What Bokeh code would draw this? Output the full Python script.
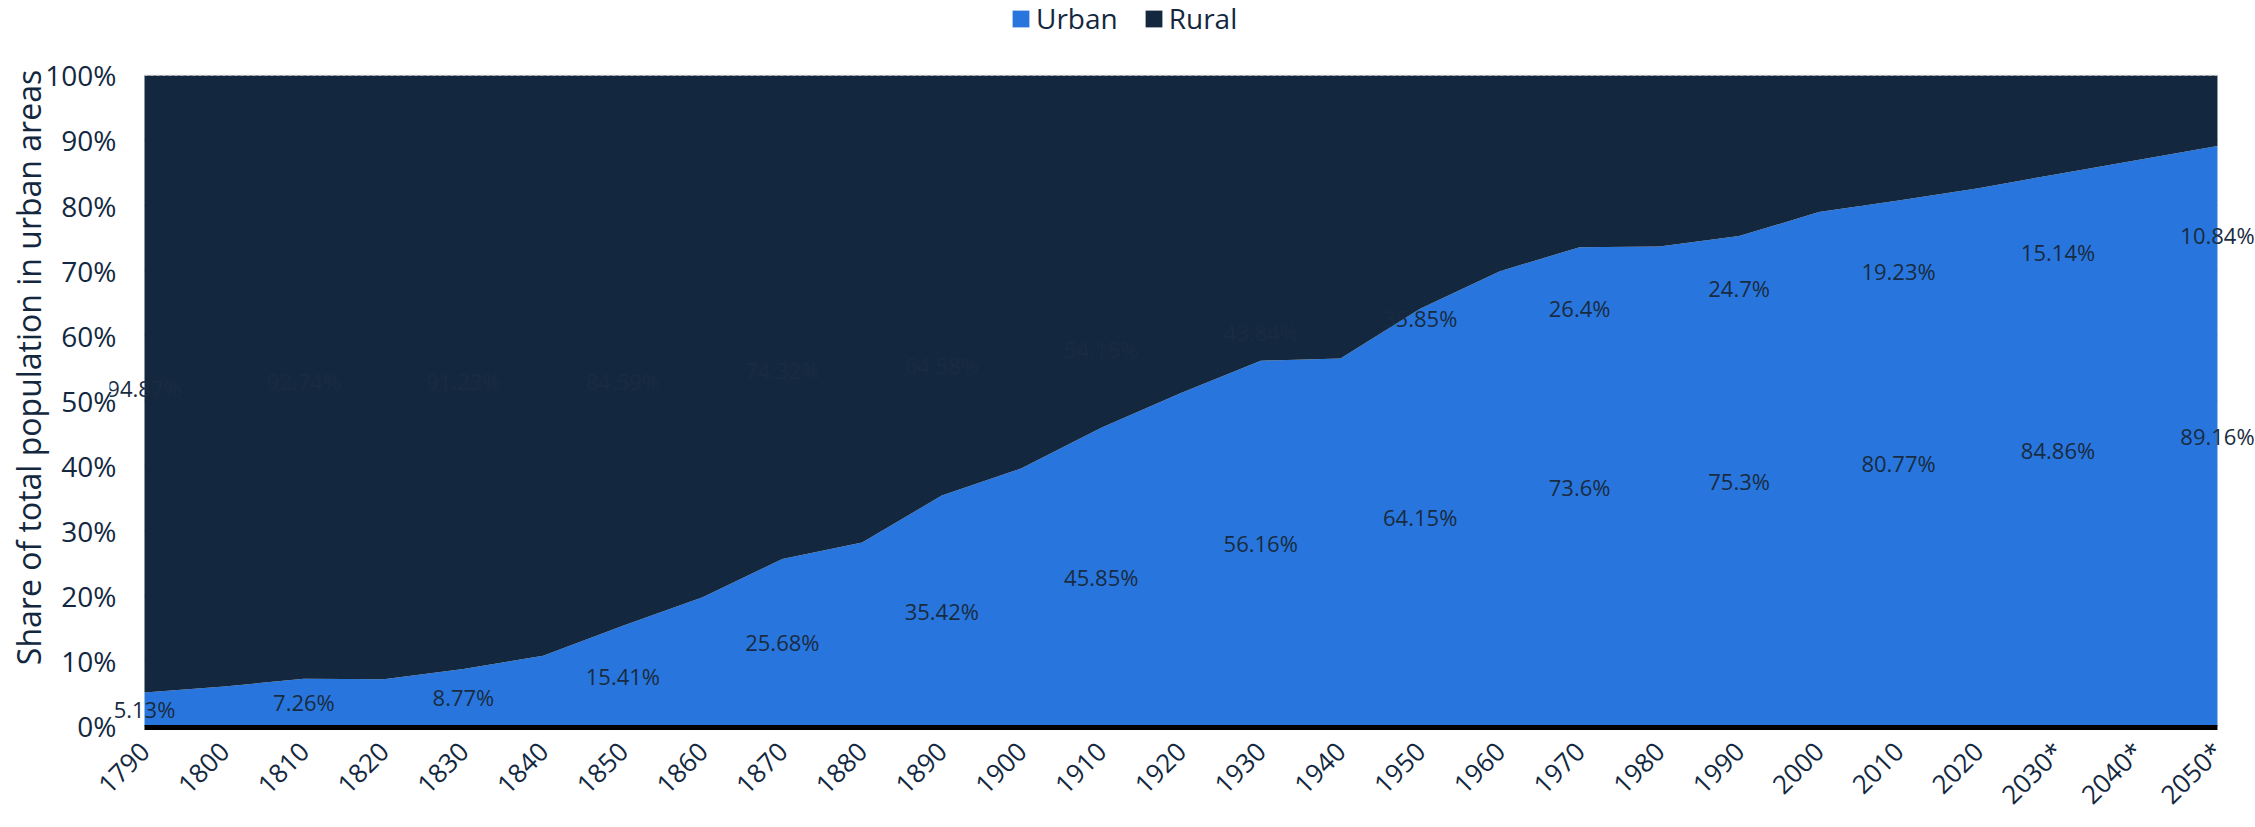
import math
from bokeh.plotting import figure
from bokeh.models import (ColumnDataSource, Range1d, FixedTicker, LabelSet,
                          Legend, LegendItem)
from bokeh.core.properties import value
from bokeh.embed import file_html
from bokeh.resources import INLINE

# ---- data -------------------------------------------------------------
years = ["1790", "1800", "1810", "1820", "1830", "1840", "1850", "1860", "1870",
         "1880", "1890", "1900", "1910", "1920", "1930", "1940", "1950", "1960",
         "1970", "1980", "1990", "2000", "2010", "2020", "2030*", "2040*", "2050*"]
urban = [5.13, 6.07, 7.26, 7.19, 8.77, 10.8, 15.41, 19.8, 25.68,
         28.2, 35.42, 39.6, 45.85, 51.2, 56.16, 56.5, 64.15, 69.9,
         73.6, 73.7, 75.3, 79.0, 80.77, 82.66, 84.86, 87.0, 89.16]
rural = [94.87, 93.93, 92.74, 92.81, 91.23, 89.2, 84.59, 80.2, 74.32,
         71.8, 64.58, 60.4, 54.15, 48.8, 43.84, 43.5, 35.85, 30.1,
         26.4, 26.3, 24.7, 21.0, 19.23, 17.34, 15.14, 13.0, 10.84]
y_ticks = [0, 10, 20, 30, 40, 50, 60, 70, 80, 90, 100]

# ---- layout ------------------------------------------------------------
# anchor heights (in % units) of the rural data labels, as placed in the original
rural_label_at = [52, 53, 53, 53, 54.7, 55.5, 58, 60.5, 62.7, 64.2, 67.4, 70, 72.9, 75.5]
PAD_L, PAD_R = 0.439, 0.477       # room (in category steps) for overhanging labels
Y_LO, Y_HI = -1.31, 111.52        # frame extends above 100 % for the legend
BASE_Y = -0.25                    # centre of the thick baseline, just under 0 %

BLUE = "#2876dd"
NAVY = "#13283f"
TXT = "#13283f"
LBL = "#192b41"
FONT = "Open Sans"

idx = list(range(len(years)))
src = ColumnDataSource(dict(x=idx, urban=urban, rural=rural))

p = figure(width=2255, height=827, output_backend="svg", toolbar_location=None,
           x_range=Range1d(idx[0] - PAD_L, idx[-1] + PAD_R),
           y_range=Range1d(Y_LO, Y_HI),
           min_border_left=109, min_border_right=0, min_border_top=0,
           min_border_bottom=80)
p.outline_line_color = None
p.background_fill_color = "white"
p.border_fill_color = "white"

# dashed grid lines limited to the data extent (hidden under the areas)
p.segment(x0=[idx[0]] * len(y_ticks), x1=[idx[-1]] * len(y_ticks),
          y0=y_ticks, y1=y_ticks, line_color="#b8b8b8", line_width=1,
          line_dash="3 3", level="underlay")

rs = p.varea_stack(["urban", "rural"], x="x", color=[BLUE, NAVY], source=src)

# the top grid line stays visible along the upper edge
p.segment(x0=[idx[0]], x1=[idx[-1]], y0=[y_ticks[-1]], y1=[y_ticks[-1]],
          line_color="#c4c4c4", line_width=1.2, line_dash="3 3")

# thick baseline spanning the data
p.segment(x0=[idx[0]], x1=[idx[-1]], y0=[BASE_Y], y1=[BASE_Y],
          line_color="black", line_width=5)

# data labels
lab_idx = idx[::2]
u_src = ColumnDataSource(dict(
    x=lab_idx,
    y=[urban[i] / 2 for i in lab_idx],
    t=[f"{urban[i]:g}%" for i in lab_idx]))
r_src = ColumnDataSource(dict(
    x=lab_idx,
    y=rural_label_at,
    t=[f"{rural[i]:g}%" for i in lab_idx]))
for s in (u_src, r_src):
    p.add_layout(LabelSet(x="x", y="y", text="t", source=s, text_align="center",
                          text_baseline="middle", text_font_size="22px",
                          text_color=LBL, text_font=value(FONT)))

# axes
p.xaxis.ticker = FixedTicker(ticks=idx)
p.xaxis.major_label_overrides = {i: y for i, y in enumerate(years)}
p.xaxis.major_label_orientation = math.pi / 4
p.xaxis.axis_line_color = None
p.xaxis.major_tick_line_color = None
p.xaxis.minor_tick_line_color = None
p.xaxis.major_label_standoff = 6
p.xaxis.major_label_text_font_size = "26px"
p.xaxis.major_label_text_font = FONT
p.xaxis.major_label_text_color = TXT

p.yaxis.ticker = FixedTicker(ticks=y_ticks)
p.yaxis.major_label_overrides = {t: f"{t}%" for t in y_ticks}
p.yaxis.axis_line_color = None
p.yaxis.major_tick_line_color = None
p.yaxis.minor_tick_line_color = None
p.yaxis.major_tick_out = 0
p.yaxis.major_label_standoff = -7
p.yaxis.major_label_text_font_size = "28px"
p.yaxis.major_label_text_font = FONT
p.yaxis.major_label_text_color = TXT
p.yaxis.axis_label = "Share of total population in urban areas"
p.yaxis.axis_label_text_font_size = "32px"
p.yaxis.axis_label_text_font = FONT
p.yaxis.axis_label_text_font_style = "normal"
p.yaxis.axis_label_text_color = TXT
p.yaxis.axis_label_standoff = -8

p.xgrid.visible = False
p.ygrid.visible = False

legend = Legend(items=[LegendItem(label="Urban", renderers=[rs[0]]),
                       LegendItem(label="Rural", renderers=[rs[1]])],
                orientation="horizontal", location=(901, 697))
legend.label_text_font_size = "28px"
legend.label_text_font = FONT
legend.label_text_color = TXT
legend.glyph_width = 21
legend.glyph_height = 21
legend.label_standoff = 5
legend.spacing = 25
legend.padding = 0
legend.margin = 0
legend.border_line_color = None
legend.background_fill_alpha = 0
p.add_layout(legend)

open("out.html", "w").write(file_html(p, INLINE))
